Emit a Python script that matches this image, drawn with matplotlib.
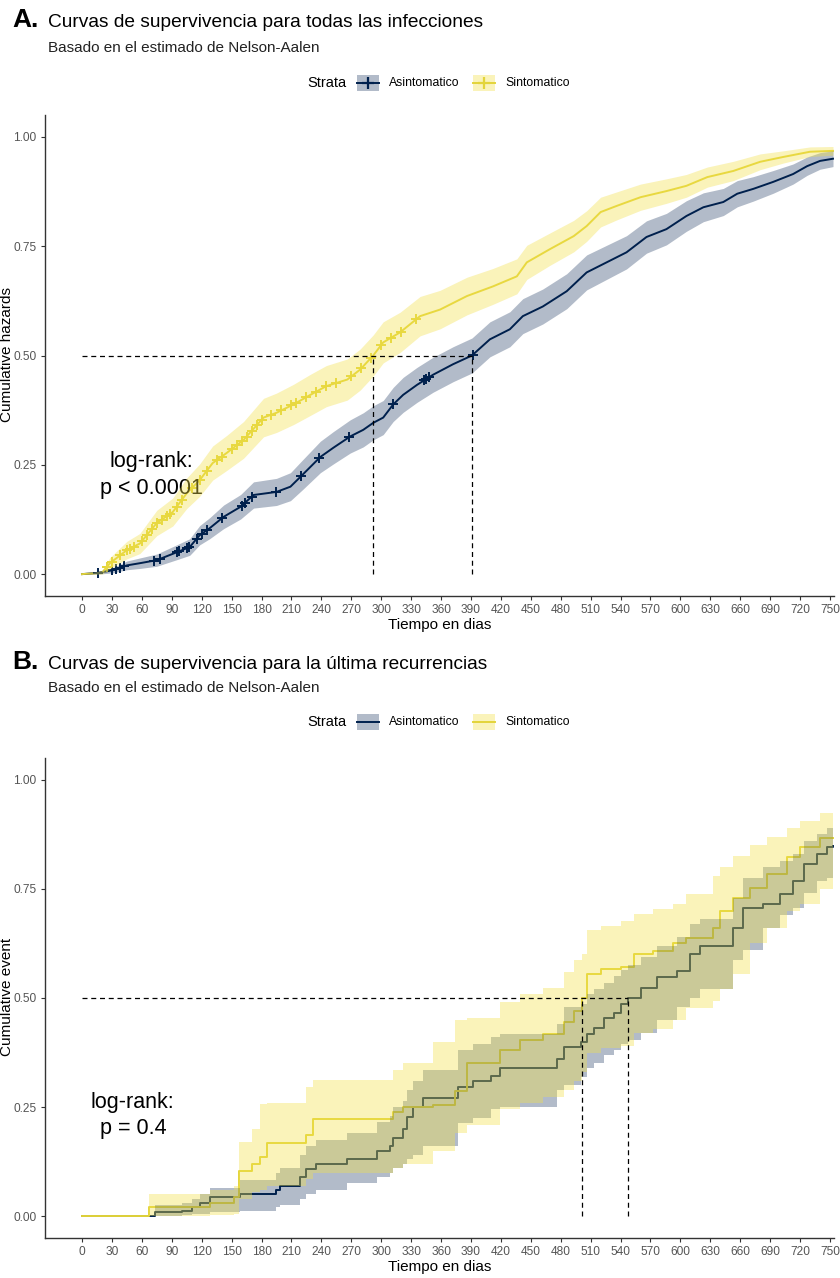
import numpy as np
import matplotlib
matplotlib.use("Agg")
import matplotlib.pyplot as plt
from matplotlib.patches import Rectangle
from matplotlib.lines import Line2D

plt.rcParams["font.family"] = ["Liberation Sans", "DejaVu Sans"]

# ---------------- data ----------------
groups = ["Asintomatico", "Sintomatico"]
x_ticks = list(range(0, 751, 30))
y_ticks = [0.0, 0.25, 0.5, 0.75, 1.0]

# Panel A: all infections (Nelson-Aalen cumulative hazard)
tA_asin = [0, 16, 31, 45, 58, 75, 95, 108, 118, 128, 142, 159, 172, 195, 209, 221, 239, 252, 269, 282,
           292, 302, 312, 322, 336, 352, 372, 391, 409, 429, 442, 462, 486, 506, 526, 546, 566, 586, 606, 623,
           643, 657, 673, 693, 713, 727, 740, 753]
vA_asin = [0, 0.003, 0.009, 0.02, 0.025, 0.032, 0.05, 0.062, 0.089, 0.105, 0.131, 0.154, 0.181, 0.188, 0.2, 0.227,
           0.268, 0.289, 0.315, 0.33, 0.346, 0.358, 0.388, 0.41, 0.433, 0.456, 0.48, 0.5, 0.537, 0.56, 0.59,
           0.612, 0.647, 0.69, 0.713, 0.736, 0.771, 0.789, 0.819, 0.839, 0.851, 0.87, 0.881, 0.897, 0.915,
           0.933, 0.945, 0.95]
loA_asin = [0, 0.0, 0.003, 0.01, 0.013, 0.018, 0.033, 0.043, 0.067, 0.081, 0.104, 0.126, 0.151, 0.157, 0.168, 0.193,
            0.232, 0.252, 0.277, 0.291, 0.307, 0.319, 0.349, 0.37, 0.393, 0.416, 0.44, 0.46, 0.497, 0.52, 0.55,
            0.572, 0.607, 0.65, 0.674, 0.698, 0.734, 0.753, 0.784, 0.806, 0.82, 0.84, 0.853, 0.871, 0.892,
            0.912, 0.926, 0.932]
hiA_asin = [0, 0.006, 0.015, 0.03, 0.037, 0.046, 0.067, 0.081, 0.111, 0.129, 0.158, 0.182, 0.211, 0.219, 0.232, 0.261,
            0.304, 0.326, 0.353, 0.369, 0.385, 0.397, 0.427, 0.45, 0.473, 0.496, 0.52, 0.54, 0.577, 0.6, 0.63,
            0.652, 0.687, 0.73, 0.752, 0.774, 0.808, 0.825, 0.854, 0.872, 0.882, 0.9, 0.909, 0.923, 0.938,
            0.954, 0.964, 0.968]
censA_asin = [16, 30, 34, 38, 42, 72, 78, 95, 97, 105, 107, 115, 120, 125, 140, 160, 163, 170, 195, 220,
              238, 268, 312, 343, 345, 348, 392]

tA_sin = [0, 20, 28, 45, 58, 75, 91, 105, 118, 131, 145, 162, 182, 195, 212, 229, 245, 266, 279, 292,
          302, 319, 339, 359, 386, 412, 436, 446, 469, 493, 506, 520, 536, 560, 586, 606, 627, 653, 680, 703,
          730, 753]
vA_sin = [0, 0.003, 0.025, 0.055, 0.07, 0.117, 0.142, 0.185, 0.215, 0.254, 0.277, 0.307, 0.358, 0.369, 0.388, 0.41,
          0.43, 0.445, 0.468, 0.5, 0.53, 0.553, 0.59, 0.605, 0.636, 0.658, 0.681, 0.713, 0.743, 0.773, 0.796,
          0.828, 0.842, 0.862, 0.876, 0.888, 0.908, 0.922, 0.943, 0.954, 0.966, 0.968]
loA_sin = [0, 0, 0.012, 0.035, 0.047, 0.088, 0.11, 0.15, 0.178, 0.215, 0.237, 0.265, 0.314, 0.324, 0.342, 0.363,
           0.383, 0.398, 0.421, 0.453, 0.483, 0.507, 0.545, 0.561, 0.593, 0.617, 0.641, 0.674, 0.706, 0.737,
           0.761, 0.794, 0.81, 0.832, 0.848, 0.862, 0.885, 0.9, 0.925, 0.94, 0.955, 0.958]
hiA_sin = [0, 0.008, 0.038, 0.075, 0.093, 0.146, 0.174, 0.22, 0.252, 0.293, 0.317, 0.349, 0.402, 0.414, 0.434, 0.457,
           0.477, 0.492, 0.515, 0.547, 0.577, 0.599, 0.635, 0.649, 0.679, 0.699, 0.721, 0.752, 0.78, 0.809,
           0.831, 0.862, 0.874, 0.892, 0.904, 0.914, 0.931, 0.944, 0.961, 0.968, 0.977, 0.978]
censA_sin = [25, 30, 38, 45, 48, 52, 60, 65, 70, 75, 80, 85, 88, 95, 100, 110, 118, 125, 135, 140, 150,
             155, 160, 165, 170, 175, 180, 190, 200, 210, 215, 225, 235, 245, 255, 270, 280, 290, 300, 310,
             320, 335]

# Panel B: last recurrence (cumulative event)
tB_asin = [0, 70, 73, 100, 110, 118, 128, 158, 195, 199, 219, 225, 235, 266, 296, 309, 312, 322, 326, 332,
           342, 377, 392, 410, 419, 476, 483, 500, 506, 513, 523, 533, 540, 547, 560, 577, 597, 610, 620, 653,
           663, 683, 700, 713, 724, 737, 747, 753]
vB_asin = [0, 0.0, 0.01, 0.013, 0.02, 0.03, 0.045, 0.05, 0.06, 0.07, 0.09, 0.107, 0.12, 0.13, 0.15, 0.16, 0.18,
           0.20, 0.227, 0.25, 0.27, 0.295, 0.31, 0.322, 0.34, 0.36, 0.387, 0.40, 0.418, 0.432, 0.455, 0.465,
           0.487, 0.50, 0.524, 0.547, 0.563, 0.60, 0.62, 0.661, 0.707, 0.716, 0.739, 0.769, 0.808, 0.83,
           0.845, 0.848]
loB_asin = [0, 0, 0.0, 0.002, 0.004, 0.006, 0.01, 0.012, 0.02, 0.025, 0.04, 0.05, 0.06, 0.075, 0.09, 0.1, 0.11,
            0.12, 0.13, 0.14, 0.16, 0.213, 0.225, 0.245, 0.25, 0.29, 0.3, 0.32, 0.34, 0.35, 0.37, 0.38, 0.395,
            0.403, 0.42, 0.45, 0.48, 0.5, 0.52, 0.586, 0.61, 0.66, 0.69, 0.707, 0.74, 0.769, 0.775, 0.78]
hiB_asin = [0, 0, 0.025, 0.03, 0.04, 0.05, 0.065, 0.082, 0.1, 0.11, 0.14, 0.16, 0.174, 0.19, 0.215, 0.23, 0.25,
            0.265, 0.29, 0.31, 0.334, 0.38, 0.395, 0.41, 0.418, 0.44, 0.48, 0.487, 0.51, 0.52, 0.535, 0.55,
            0.565, 0.575, 0.593, 0.62, 0.64, 0.67, 0.68, 0.73, 0.776, 0.80, 0.815, 0.83, 0.86, 0.876, 0.89, 0.89]

tB_sin = [0, 67, 128, 152, 157, 170, 178, 185, 225, 232, 312, 322, 352, 374, 386, 419, 439, 462, 483, 493,
          501, 506, 520, 540, 553, 573, 593, 606, 633, 640, 653, 670, 687, 707, 720, 740, 753]
vB_sin = [0, 0.02, 0.03, 0.045, 0.103, 0.12, 0.135, 0.168, 0.185, 0.222, 0.238, 0.25, 0.255, 0.288, 0.35, 0.38,
          0.403, 0.418, 0.444, 0.47, 0.5, 0.556, 0.567, 0.57, 0.60, 0.608, 0.625, 0.638, 0.661, 0.70, 0.73,
          0.753, 0.785, 0.822, 0.845, 0.867, 0.867]
loB_sin = [0, 0.0, 0.002, 0.006, 0.04, 0.055, 0.06, 0.07, 0.085, 0.1, 0.11, 0.12, 0.15, 0.19, 0.21, 0.245, 0.26,
           0.273, 0.29, 0.31, 0.33, 0.375, 0.385, 0.39, 0.42, 0.43, 0.45, 0.478, 0.494, 0.52, 0.556, 0.625,
           0.661, 0.70, 0.716, 0.75, 0.76]
hiB_sin = [0, 0.05, 0.06, 0.07, 0.17, 0.2, 0.256, 0.26, 0.295, 0.313, 0.334, 0.35, 0.40, 0.45, 0.455, 0.49, 0.51,
           0.524, 0.56, 0.586, 0.6, 0.655, 0.665, 0.677, 0.693, 0.705, 0.716, 0.739, 0.78, 0.80, 0.826, 0.85,
           0.87, 0.89, 0.906, 0.924, 0.926]

# ---------------- style ----------------
W, H = 840, 1278
NAVY = "#00204D"
YELLOW_LINE = "#E3D43A"
YELLOW_FILL = "#F2E04A"
BAND_ALPHA = 0.3
YELLOW_ALPHA = 0.38
TICK_GREY = "#555555"
AXIS_COL = "#333333"

fig = plt.figure(figsize=(W / 100, H / 100), dpi=100)


def px_rect(left, top, right, bottom):
    return [left / W, 1 - bottom / H, (right - left) / W, (bottom - top) / H]


def fx(x):
    return x / W


def fy(y):
    return 1 - y / H


def first_crossing(t, v, level=0.5):
    t = np.asarray(t, float)
    v = np.asarray(v, float)
    return t[np.argmax(v >= level)]


def style_axes(ax):
    ax.set_xlim(-37.5, 754)
    ax.set_ylim(-0.05, 1.05)
    ax.set_xticks(x_ticks)
    ax.set_yticks(y_ticks)
    ax.set_yticklabels([f"{v:.2f}" for v in y_ticks])
    for s in ("top", "right"):
        ax.spines[s].set_visible(False)
    for s in ("left", "bottom"):
        ax.spines[s].set_color(AXIS_COL)
        ax.spines[s].set_linewidth(1.0)
    ax.tick_params(axis="both", length=3, width=0.8, color=AXIS_COL,
                   labelcolor=TICK_GREY, labelsize=8.6, pad=3)
    ax.set_xlabel("Tiempo en dias", fontsize=11, labelpad=1)


def median_lines(ax, medians):
    kw = dict(color="black", lw=0.9, ls=(0, (4, 3)), zorder=10)
    ax.plot([0, max(medians)], [0.5, 0.5], **kw)
    for m in medians:
        ax.plot([m, m], [0, 0.5], **kw)


def header(letter, title, y_title, y_sub, y_leg, with_marker):
    fig.text(fx(12), fy(y_title), letter, fontsize=19, fontweight="bold",
             ha="left", va="baseline", family=["Liberation Sans Narrow", "Liberation Sans"])
    fig.text(fx(48), fy(y_title), title, fontsize=13.8, ha="left", va="baseline")
    fig.text(fx(48), fy(y_sub), "Basado en el estimado de Nelson-Aalen", fontsize=11,
             ha="left", va="baseline", color="#222222")
    fig.text(fx(307), fy(y_leg), "Strata", fontsize=10.5, ha="left", va="center")
    keys = [(357, groups[0], NAVY, NAVY, BAND_ALPHA),
            (473, groups[1], YELLOW_LINE, YELLOW_FILL, YELLOW_ALPHA)]
    for x0, label, lc, fc, a in keys:
        fig.add_artist(Rectangle((fx(x0), fy(y_leg + 8)), 22 / W, 16 / H,
                                 transform=fig.transFigure, facecolor=fc,
                                 alpha=a, edgecolor="none"))
        fig.add_artist(Line2D([fx(x0), fx(x0 + 22)], [fy(y_leg)] * 2, color=lc, lw=1.4,
                              transform=fig.transFigure))
        if with_marker:
            fig.add_artist(Line2D([fx(x0 + 11)], [fy(y_leg)], color=lc, marker="+",
                                  ms=8, mew=1.6, transform=fig.transFigure))
        fig.text(fx(x0 + 32), fy(y_leg), label, fontsize=8.8, ha="left", va="center")


# ---------------- panel A ----------------
axA = fig.add_axes(px_rect(44.6, 115, 834, 596))
style_axes(axA)

axA.plot(tA_asin, vA_asin, color=NAVY, lw=1.4, zorder=2)
axA.plot(tA_sin, vA_sin, color=YELLOW_LINE, lw=1.4, zorder=2)
axA.plot(censA_asin, np.interp(censA_asin, tA_asin, vA_asin), ls="none", marker="+",
         ms=7, mew=1.4, color=NAVY, zorder=2)
axA.plot(censA_sin, np.interp(censA_sin, tA_sin, vA_sin), ls="none", marker="+",
         ms=7, mew=1.4, color=YELLOW_LINE, zorder=2)
axA.fill_between(tA_asin, loA_asin, hiA_asin, color=NAVY, alpha=BAND_ALPHA, lw=0, zorder=3)
axA.fill_between(tA_sin, loA_sin, hiA_sin, color=YELLOW_FILL, alpha=YELLOW_ALPHA, lw=0, zorder=4)
median_lines(axA, [first_crossing(tA_asin, vA_asin), first_crossing(tA_sin, vA_sin)])
axA.text(70, 0.227, "log-rank:\np < 0.0001", fontsize=15.5, ha="center", va="center",
         linespacing=1.35)
fig.text(fx(7), fy(355), "Cumulative hazards", rotation=90, fontsize=11, ha="center", va="center")

header("A.", "Curvas de supervivencia para todas las infecciones", 27, 52, 83, True)

# ---------------- panel B ----------------
axB = fig.add_axes(px_rect(44.6, 758, 834, 1238))
style_axes(axB)

axB.plot(tB_asin, vB_asin, color=NAVY, lw=1.4, drawstyle="steps-post", zorder=2)
axB.plot(tB_sin, vB_sin, color=YELLOW_LINE, lw=1.4, drawstyle="steps-post", zorder=2)
axB.fill_between(tB_asin, loB_asin, hiB_asin, step="post", color=NAVY, alpha=BAND_ALPHA, lw=0, zorder=3)
axB.fill_between(tB_sin, loB_sin, hiB_sin, step="post", color=YELLOW_FILL, alpha=YELLOW_ALPHA, lw=0, zorder=4)
median_lines(axB, [first_crossing(tB_asin, vB_asin), first_crossing(tB_sin, vB_sin)])
axB.text(51, 0.231, "log-rank:\np = 0.4", fontsize=15.5, ha="center", va="center",
         linespacing=1.35)
fig.text(fx(7), fy(997), "Cumulative event", rotation=90, fontsize=11, ha="center", va="center")

header("B.", "Curvas de supervivencia para la última recurrencias", 669, 692, 722, False)

fig.savefig("out.png", dpi=100, facecolor="white")
